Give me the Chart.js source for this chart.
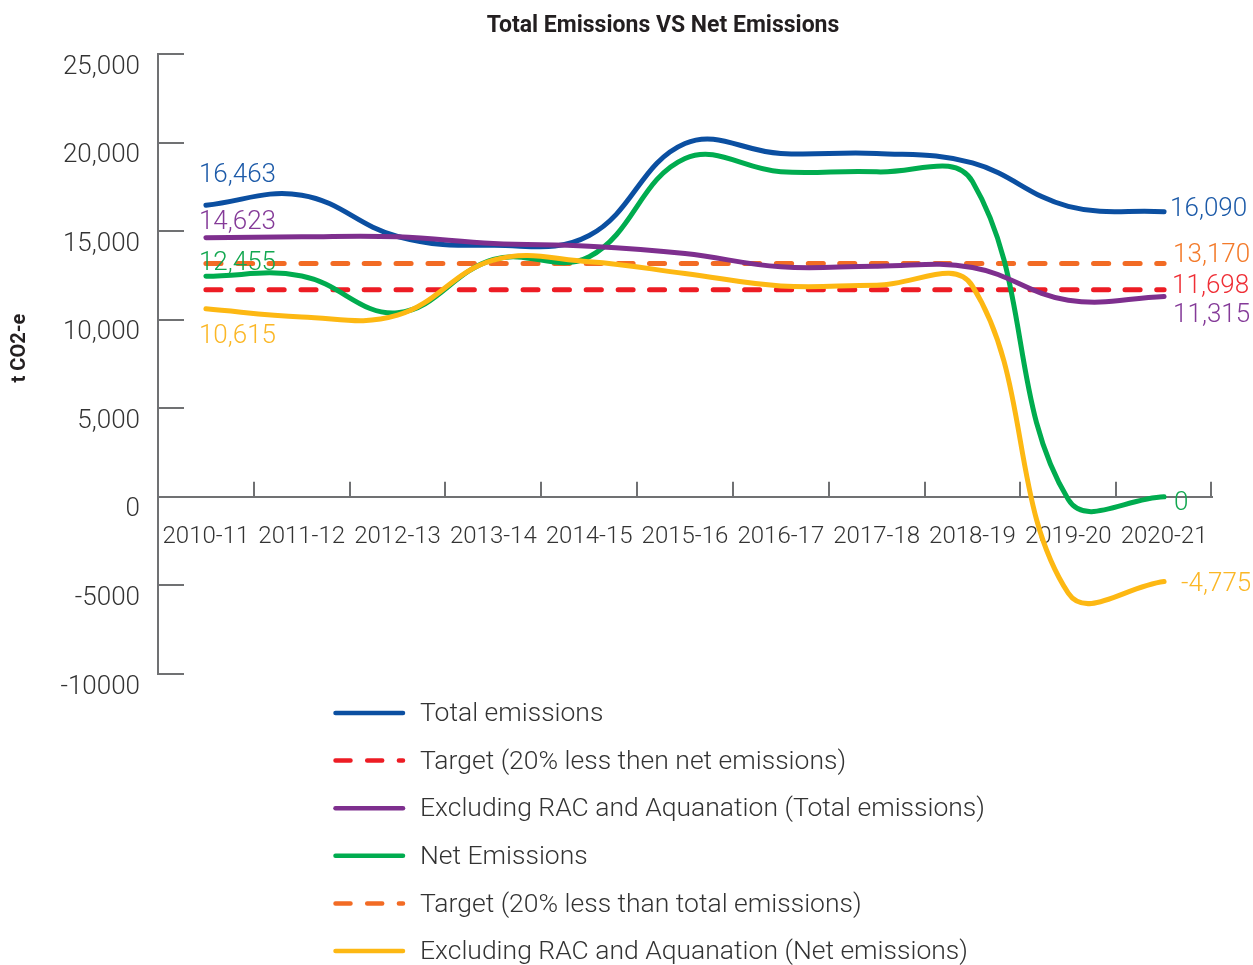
<!DOCTYPE html>
<html>
<head>
<meta charset="utf-8">
<script src="https://cdn.jsdelivr.net/npm/chart.js@4.4.1/dist/chart.umd.min.js"></script>
<style>
  html, body { margin: 0; padding: 0; background: #ffffff; }
  canvas { display: block; }
</style>
</head>
<body>
<canvas id="chart" width="1253" height="965"></canvas>
<script>
// ---------------- data ----------------
const categories = ['2010-11', '2011-12', '2012-13', '2013-14', '2014-15', '2015-16',
                    '2016-17', '2017-18', '2018-19', '2019-20', '2020-21'];

const totalEmissions = [16463, 17030, 14700, 14200, 14750, 19950, 19385, 19385, 18850, 16400, 16090];
const targetNetEmissions = [11698, 11698, 11698, 11698, 11698, 11698, 11698, 11698, 11698, 11698, 11698];
const exclRacTotal = [14623, 14680, 14680, 14300, 14150, 13740, 12985, 13020, 12950, 11100, 11315];
const netEmissions = [12455, 12470, 10390, 13400, 13550, 19100, 18350, 18350, 17800, -150, 0];
const targetTotalEmissions = [13170, 13170, 13170, 13170, 13170, 13170, 13170, 13170, 13170, 13170, 13170];
const exclRacNet = [10615, 10160, 10255, 13360, 13270, 12610, 11910, 11950, 11900, -5440, -4775];

const seriesNames = [
  'Total emissions',
  'Target (20% less then net emissions)',
  'Excluding RAC and Aquanation (Total emissions)',
  'Net Emissions',
  'Target (20% less than total emissions)',
  'Excluding RAC and Aquanation (Net emissions)'
];

const yTickValues = [25000, 20000, 15000, 10000, 5000, 0, -5000, -10000];

const chartTitle = 'Total Emissions VS Net Emissions';
const yAxisTitle = 't CO2-e';

// ---------------- styles ----------------
const FONT = "Roboto, 'Liberation Sans', sans-serif";
const AXIS_COLOR = '#707173';
const TEXT_COLOR = '#333333';

const lineColors = ['#0b4fa1', '#ed1c24', '#7e2f8e', '#00ac4f', '#f26b24', '#fdb813'];
const labelColors = ['#1c5aa8', '#ef2f36', '#843a98', '#12a750', '#f37a2a', '#fbb726'];
const dashes = [[], [15, 16.7], [], [], [15, 16.7], []];
const drawOrder = [4, 3, 1, 2, 5, 0];

// end-value label placement (offset from the data point, px)
const labelPlacement = [
  { first: { dx: -7, dy: -30 }, last: { dx: 6, dy: -2 } },
  { first: null,                last: { dx: 8, dy: -3.5 } },
  { first: { dx: -7, dy: -15 }, last: { dx: 9, dy: 19 } },
  { first: { dx: -7, dy: -13 }, last: { dx: 10, dy: 7 } },
  { first: null,                last: { dx: 9, dy: -8 } },
  { first: { dx: -7, dy: 28 },  last: { dx: 17, dy: 3 } }
];

function fmtThousands(v) {
  const s = Math.abs(v).toString().replace(/\B(?=(\d{3})+(?!\d))/g, ',');
  return (v < 0 ? '-' : '') + s;
}

const seriesValues = [totalEmissions, targetNetEmissions, exclRacTotal,
                      netEmissions, targetTotalEmissions, exclRacNet];

const datasets = seriesValues.map((vals, i) => ({
  label: seriesNames[i],
  data: vals,
  borderColor: lineColors[i],
  backgroundColor: lineColors[i],
  borderWidth: 5,
  borderDash: dashes[i],
  borderCapStyle: 'round',
  borderJoinStyle: 'round',
  pointRadius: 0,
  pointHoverRadius: 0,
  tension: 0.4,
  fill: false,
  order: drawOrder[i]
}));

// ---------------- decorations plugin ----------------
const decorations = {
  id: 'decorations',
  beforeDatasetsDraw(chart) {
    const ctx = chart.ctx;
    const xs = chart.scales.x, ys = chart.scales.y;
    const area = chart.chartArea;
    const y0 = ys.getPixelForValue(0);
    ctx.save();
    ctx.strokeStyle = AXIS_COLOR;
    ctx.lineWidth = 2;
    ctx.lineCap = 'butt';
    yTickValues.forEach(v => {
      const y = Math.round(ys.getPixelForValue(v));
      ctx.beginPath();
      ctx.moveTo(area.left, y);
      ctx.lineTo(area.left + 26, y);
      ctx.stroke();
    });
    for (let i = 0; i < categories.length; i++) {
      let x;
      if (i < categories.length - 1) {
        x = (xs.getPixelForValue(i) + xs.getPixelForValue(i + 1)) / 2;
      } else {
        x = area.right - 1;
      }
      x = Math.round(x);
      ctx.beginPath();
      ctx.moveTo(x, y0);
      ctx.lineTo(x, y0 - 15);
      ctx.stroke();
    }
    ctx.restore();
  },
  afterDatasetsDraw(chart) {
    const ctx = chart.ctx;
    ctx.save();
    ctx.font = '300 26px ' + FONT;
    ctx.textAlign = 'left';
    ctx.textBaseline = 'middle';
    chart.data.datasets.forEach((ds, i) => {
      const meta = chart.getDatasetMeta(i);
      const pts = meta.data;
      const place = labelPlacement[i];
      ctx.fillStyle = labelColors[i];
      if (place.first) {
        const p = pts[0];
        ctx.fillText(fmtThousands(ds.data[0]), p.x + place.first.dx, p.y + place.first.dy);
      }
      if (place.last) {
        const n = pts.length - 1;
        const p = pts[n];
        ctx.fillText(fmtThousands(ds.data[n]), p.x + place.last.dx, p.y + place.last.dy);
      }
    });
    ctx.restore();
  },
  afterDraw(chart) {
    const ctx = chart.ctx;
    ctx.save();
    ctx.fillStyle = '#231f20';
    ctx.font = 'bold 23px ' + FONT;
    ctx.textAlign = 'center';
    ctx.textBaseline = 'middle';
    ctx.fillText(chartTitle, 663, 26);
    ctx.save();
    ctx.translate(20, 348);
    ctx.rotate(-Math.PI / 2);
    ctx.font = 'bold 20px ' + FONT;
    ctx.fillText(yAxisTitle, 0, 0);
    ctx.restore();
    const lx = 333, ly0 = 713, step = 47.6;
    chart.data.datasets.forEach((ds, i) => {
      const y = ly0 + i * step;
      ctx.save();
      ctx.strokeStyle = ds.borderColor;
      ctx.lineWidth = 4.5;
      ctx.lineCap = 'round';
      ctx.setLineDash(ds.borderDash || []);
      ctx.beginPath();
      ctx.moveTo(lx + 2.5, y);
      ctx.lineTo(lx + 70, y);
      ctx.stroke();
      ctx.restore();
      ctx.fillStyle = TEXT_COLOR;
      ctx.font = '300 26.5px ' + FONT;
      ctx.textAlign = 'left';
      ctx.textBaseline = 'middle';
      ctx.fillText(ds.label, 420, y + 1.5);
    });
    ctx.restore();
  }
};

// ---------------- chart ----------------
new Chart(document.getElementById('chart'), {
  type: 'line',
  data: { labels: categories, datasets: datasets },
  options: {
    responsive: false,
    animation: false,
    events: [],
    layout: { padding: { top: 54, right: 41, bottom: 291, left: 0 } },
    plugins: {
      legend: { display: false },
      title: { display: false },
      tooltip: { enabled: false }
    },
    scales: {
      x: {
        type: 'category',
        position: { y: 0 },
        offset: true,
        grid: { display: false, drawTicks: false },
        border: { display: true, color: AXIS_COLOR, width: 2 },
        ticks: {
          autoSkip: false,
          maxRotation: 0,
          minRotation: 0,
          padding: 26,
          color: TEXT_COLOR,
          font: { family: FONT, size: 24, weight: 300 }
        }
      },
      y: {
        type: 'linear',
        min: -10000,
        max: 25000,
        afterFit(scale) { scale.width = 158; },
        afterBuildTicks(scale) { scale.ticks = yTickValues.map(v => ({ value: v })); },
        grid: { display: false, drawTicks: false },
        border: { display: true, color: AXIS_COLOR, width: 2 },
        ticks: {
          padding: 18,
          labelOffset: 13,
          color: TEXT_COLOR,
          font: { family: FONT, size: 26, weight: 300 },
          callback: (v) => (v >= 0 ? fmtThousands(v) : String(v))
        }
      }
    }
  },
  plugins: [decorations]
});
</script>
</body>
</html>
